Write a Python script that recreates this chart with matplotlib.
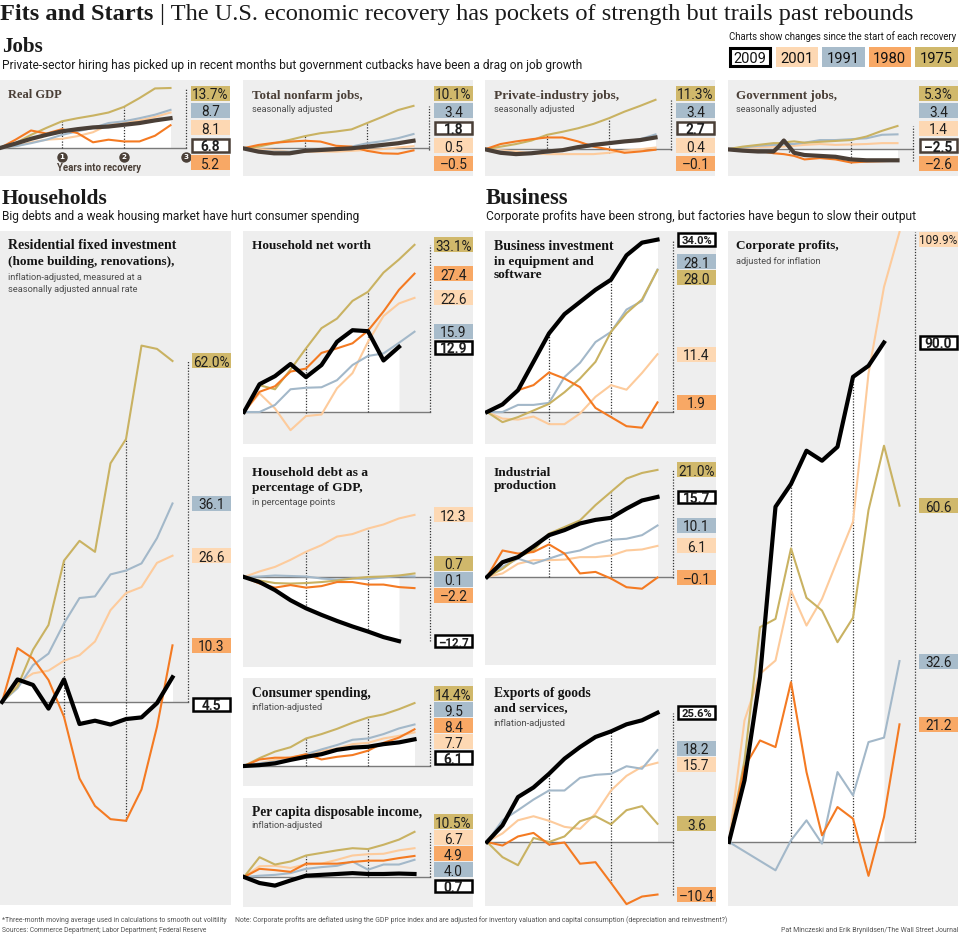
import matplotlib
matplotlib.use("Agg")
import matplotlib.pyplot as plt
from matplotlib.patches import Rectangle
import numpy as np

# recoveries, in the order every series list below is given
years = ["2009", "2001", "1991", "1980", "1975"]

# x positions, in years into the recovery
quarters = [q / 4 for q in range(12)]
job_months = [m / 12 for m in range(0, 34, 3)]
gov_months = [m / 12 for m in [0, 3, 6, 9, 10, 11, 12, 13, 15, 18, 21, 24, 27, 30, 33]]

# ---- Jobs ----
gdp_2009 = [0, 1.0, 2.1, 3.0, 3.8, 4.3, 4.7, 4.9, 5.3, 5.7, 6.3, 6.8]
gdp_2001 = [0, 0.4, 1.3, 1.9, 2.1, 2.7, 3.6, 5.3, 5.7, 6.3, 7.1, 8.1]
gdp_1991 = [0, 0.4, 1.1, 1.9, 3.0, 3.8, 4.6, 5.7, 6.1, 6.8, 7.6, 8.7]
gdp_1980 = [0, 1.9, 4.0, 3.3, 4.3, 3.4, 1.3, 1.9, 1.5, 1.5, 2.8, 5.2]
gdp_1975 = [0, 1.1, 3.0, 4.6, 6.1, 6.8, 7.4, 8.1, 9.4, 11.4, 13.6, 13.7]
gdp_labels = [6.8, 8.1, 8.7, 5.2, 13.7]

nonfarm_2009 = [0, -0.8, -1.2, -1.2, -0.6, -0.4, -0.2, 0, 0.4, 0.8, 1.2, 1.8]
nonfarm_2001 = [0, -0.2, -0.4, -0.8, -0.8, -0.8, -0.8, -0.6, -0.4, -0.2, 0.2, 0.5]
nonfarm_1991 = [0, -0.6, -0.8, -0.8, -0.4, -0.2, 0, 0.4, 1.2, 1.7, 2.4, 3.4]
nonfarm_1980 = [0, 0.8, 1.3, 1.6, 1.8, 1.6, 0.6, 0.4, -0.6, -1.2, -1.3, -0.5]
nonfarm_1975 = [0, 0.4, 1.2, 2.0, 2.9, 3.6, 4.0, 4.5, 6.0, 7.5, 9.1, 10.1]
nonfarm_labels = [1.8, 0.5, 3.4, -0.5, 10.1]

private_2009 = [0, -0.8, -1.1, -0.9, -0.5, -0.2, 0.5, 1.0, 1.4, 1.8, 2.1, 2.7]
private_2001 = [0, -0.2, -0.5, -0.9, -1.1, -1.1, -1.1, -1.1, -0.8, -0.3, 0, 0.4]
private_1991 = [0, -0.5, -0.9, -0.9, -0.8, -0.3, 0.2, 0.8, 1.4, 1.8, 2.3, 3.4]
private_1980 = [0, 1.2, 1.8, 2.3, 2.7, 2.7, 1.8, 0.6, 0, -0.8, -0.5, -0.1]
private_1975 = [0, 0.6, 1.2, 2.0, 3.3, 4.0, 4.8, 5.8, 7.1, 8.6, 9.9, 11.3]
private_labels = [2.7, 0.4, 3.4, -0.1, 11.3]

gov_2009 = [0, -0.3, -0.5, -0.5, 0.6, 2.0, 0.6, -0.8, -1.3, -1.5, -1.7, -2.3, -2.5, -2.5, -2.5]
gov_2001 = [0, 0.3, 0.5, 0.6, 0.6, 0.6, 0.8, 0.8, 1.0, 1.2, 1.0, 1.1, 1.2, 1.4, 1.4]
gov_1991 = [0, 0.4, 0.8, 1.0, 1.0, 1.1, 1.2, 1.2, 1.5, 2.1, 2.1, 2.3, 2.5, 3.3, 3.4]
gov_1980 = [0, -0.2, -0.3, -0.9, -1.0, -1.1, -1.3, -1.5, -2.3, -2.0, -2.3, -3.0, -2.8, -2.7, -2.6]
gov_1975 = [0, 0.6, 1.0, 1.4, 1.4, 1.5, 1.7, 1.8, 1.5, 1.7, 1.9, 2.1, 2.9, 4.2, 5.3]
gov_labels = [-2.5, 1.4, 3.4, -2.6, 5.3]

# ---- Households ----
res_2009 = [0, 4.1, 3.1, -1.2, 4.1, -4.0, -3.4, -4.1, -3.1, -2.8, -0.2, 4.5]
res_2001 = [0, 3.4, 5.2, 5.7, 7.5, 8.5, 11.0, 16.7, 19.8, 20.9, 25.3, 26.6]
res_1991 = [0, 2.5, 6.7, 8.8, 14.3, 18.9, 19.2, 23.2, 23.9, 25.2, 29.8, 36.1]
res_1980 = [0, 9.8, 7.9, 4.0, -2.7, -13.9, -18.9, -21.3, -21.6, -15.9, -4.5, 10.3]
res_1975 = [0, 2.8, 9.5, 14.0, 25.7, 29.3, 27.3, 43.4, 47.8, 64.8, 64.2, 62.0]
res_labels = [4.5, 26.6, 36.1, 10.3, 62.0]

nw_2009 = [0, 5.5, 7.1, 9.5, 6.9, 9.3, 13.9, 16.2, 16.0, 10.2, 12.9]
nw_2001 = [0, 3.7, 0.7, -3.6, -0.8, -0.5, 4.7, 7.7, 13.9, 19.0, 21.5, 22.6]
nw_1991 = [0, 0, 1.4, 4.5, 4.8, 4.9, 6.3, 9.3, 11.1, 11.6, 13.7, 15.9]
nw_1980 = [0, 4.0, 5.1, 8.0, 8.6, 11.7, 12.6, 13.6, 16.1, 19.9, 24.2, 27.4]
nw_1975 = [0, 5.3, 4.5, 8.4, 12.6, 16.6, 18.5, 22.0, 23.8, 27.6, 30.2, 33.1]
nw_labels = [12.9, 22.6, 15.9, 27.4, 33.1]

debt_2009 = [0, -1.0, -2.6, -4.6, -6.2, -7.5, -8.7, -9.8, -10.8, -11.9, -12.7]
debt_2001 = [0, 1.1, 2.0, 3.4, 5.0, 6.3, 8.0, 8.5, 9.6, 10.4, 11.6, 12.3]
debt_1991 = [0, 0.1, 0.3, 0.2, 0.1, -0.3, -0.5, -0.3, -0.4, -0.1, 0.2, 0.1]
debt_1980 = [0, -1.3, -2.1, -1.6, -2.1, -1.8, -1.0, -1.0, -1.5, -1.5, -2.0, -2.2]
debt_1975 = [0, -0.7, -1.2, -1.3, -1.2, -1.0, -0.7, -0.3, 0, 0.1, 0.3, 0.7]
debt_labels = [-12.7, 12.3, 0.1, -2.2, 0.7]

cons_2009 = [0, 0.2, 0.6, 1.4, 2.1, 2.7, 3.7, 4.2, 4.4, 5.0, 5.4, 6.1]
cons_2001 = [0, 0.6, 1.4, 2.0, 2.5, 3.5, 4.0, 5.0, 5.3, 6.3, 6.9, 7.7]
cons_1991 = [0, 0.6, 1.0, 1.5, 2.7, 3.8, 4.8, 6.0, 6.3, 7.3, 8.6, 9.5]
cons_1980 = [0, 1.5, 1.9, 1.9, 2.7, 1.5, 2.1, 2.5, 3.5, 5.3, 6.5, 8.4]
cons_1975 = [0, 1.8, 3.3, 4.3, 6.3, 7.3, 8.5, 9.9, 11.1, 11.8, 13.0, 14.4]
cons_labels = [6.1, 7.7, 9.5, 8.4, 14.4]

pci_2009 = [0, -1.4, -2.0, -0.8, 0.3, 0.5, 0.7, 0.9, 0.7, 0.7, 0.8, 0.7]
pci_2001 = [0, 2.5, 2.6, 2.1, 2.9, 3.1, 4.0, 5.0, 5.3, 5.4, 6.2, 6.7]
pci_1991 = [0, 0.3, 0.5, 0.9, 1.9, 2.3, 2.6, 3.6, 1.7, 2.9, 2.9, 4.0]
pci_1980 = [0, 1.9, 1.6, 1.2, 3.1, 3.1, 3.1, 3.5, 3.8, 3.8, 4.4, 4.9]
pci_1975 = [0, 4.6, 2.9, 3.6, 5.0, 5.6, 6.2, 6.7, 6.5, 7.5, 8.7, 10.5]
pci_labels = [0.7, 6.7, 4.0, 4.9, 10.5]

# ---- Business ----
biz_2009 = [0, 1.5, 4.3, 9.9, 15.5, 19.3, 21.7, 24.1, 26.1, 30.9, 33.4, 34.0]
biz_2001 = [0, -1.3, -1.5, -0.9, -2.4, -2.4, -0.3, 3.0, 5.3, 4.4, 7.7, 11.4]
biz_1991 = [0, 0, 1.4, 1.4, 1.8, 6.9, 9.7, 13.8, 15.8, 20.2, 21.9, 28.1]
biz_1980 = [0, 1.5, 4.3, 5.3, 7.8, 6.6, 4.9, 0.8, -1.0, -2.8, -3.1, 1.9]
biz_1975 = [0, -2.0, -1.0, 0.3, 1.6, 3.9, 6.6, 9.9, 15.8, 19.5, 22.2, 28.0]
biz_labels = [34.0, 11.4, 28.1, 1.9, 28.0]

ind_2009 = [0, 2.9, 3.9, 6.0, 8.2, 9.2, 10.5, 11.2, 11.6, 13.4, 15.0, 15.7]
ind_2001 = [0, 0.7, 2.6, 3.3, 3.3, 3.4, 3.9, 3.9, 4.2, 5.2, 5.4, 6.1]
ind_1991 = [0, 2.0, 3.6, 2.6, 3.6, 4.6, 5.2, 6.5, 7.3, 7.5, 8.2, 10.1]
ind_1980 = [0, 5.2, 4.6, 4.9, 6.4, 4.6, 0.7, 1.0, -0.3, -2.0, -2.3, -0.1]
ind_1975 = [0, 1.6, 3.9, 5.2, 8.5, 9.8, 11.1, 14.1, 16.7, 19.3, 20.4, 21.0]
ind_labels = [15.7, 6.1, 10.1, -0.1, 21.0]

exp_2009 = [0, 3.3, 8.9, 10.8, 13.5, 16.5, 18.8, 20.8, 21.9, 23.3, 24.1, 25.6]
exp_2001 = [0, 1.7, 4.3, 5.1, 4.2, 3.0, 2.6, 5.6, 10.2, 13.1, 14.9, 15.7]
exp_1991 = [0, 4.3, 6.3, 8.4, 10.2, 10.2, 12.7, 13.3, 13.5, 15.0, 14.5, 18.2]
exp_1980 = [0, -0.7, 1.1, 1.8, -0.5, -0.1, -4.3, -4.0, -8.1, -12.3, -10.8, -10.4]
exp_1975 = [0, -3.0, -4.6, 0.8, 0, 1.1, 4.1, 5.1, 3.5, 6.3, 7.1, 3.6]
exp_labels = [25.6, 15.7, 18.2, -10.4, 3.6]

corp_2009 = [0, 11.1, 29.7, 60.4, 64.5, 70.5, 68.7, 71.2, 83.8, 85.8, 90.0]
corp_2001 = [0, 21.9, 30.3, 32.7, 45.3, 39.0, 43.8, 50.8, 57.7, 84.4, 100.0, 109.9]
corp_1991 = [0, -1.7, -3.4, -5.1, 0.3, 3.9, -0.3, 12.6, 8.4, 18.0, 18.8, 32.6]
corp_1980 = [0, 13.5, 18.3, 17.1, 28.8, 12.6, 1.2, 6.3, 4.2, -6.1, 4.5, 21.2]
corp_1975 = [0, 14.7, 38.7, 40.2, 52.9, 44.0, 41.7, 36.0, 40.4, 59.8, 71.4, 60.6]
corp_labels = [90.0, 109.9, 32.6, 21.2, 60.6]

# ---- styles ----
W, H = 959, 935
YEAR_PX = 62
BG = "#eeeeee"
BROWN = "#4a3f37"
LINE = {"2001": "#fdcb9c", "1991": "#a3b8c9", "1980": "#f47a22", "1975": "#c9b262"}
FILL = {"2001": "#fdd8b3", "1991": "#a8bccb", "1980": "#f8a865", "1975": "#d0b86b"}
SERIF = ["Liberation Serif", "DejaVu Serif"]
SANS = ["Roboto", "DejaVu Sans"]

fig = plt.figure(figsize=(W / 100, H / 100), dpi=100)
renderer = fig.canvas.get_renderer()


def put(x, y, s, width=None, size=9, family=SANS, ha="left", maxw=None, **kw):
    t = fig.text(x / W, 1 - y / H, s, fontsize=size, family=family, ha=ha,
                 va="center_baseline", **kw)
    w = t.get_window_extent(renderer).width
    if width:
        t.set_fontsize(size * width / w)
    elif maxw and w > maxw:
        t.set_fontsize(size * maxw / w)
    return t


def box(x, y, w, h, yr, edge="black", lw=1.8):
    if yr == "2009":
        r = Rectangle(((x + 1.2) / W, 1 - (y + h - 1.2) / H), (w - 2.4) / W, (h - 2.4) / H,
                      transform=fig.transFigure, facecolor="white", edgecolor=edge, lw=lw)
    else:
        r = Rectangle((x / W, 1 - (y + h) / H), w / W, h / H,
                      transform=fig.transFigure, facecolor=FILL[yr], lw=0)
    fig.add_artist(r)


def spread(want, gap, lo, hi):
    order = np.argsort(want)
    y = np.array(want, float)[order]
    for _ in range(400):
        for i in range(1, len(y)):
            d = y[i - 1] + gap - y[i]
            if d > 0:
                y[i - 1] -= d / 2
                y[i] += d / 2
        y[0] = max(y[0], lo)
        y[-1] = min(y[-1], hi)
    out = np.empty_like(y)
    out[order] = y
    return out


def panel(left, top, right, bottom, x0, base, ppu, xs, values, labels,
          titles=(), small=False, pct=True, nudge=None):
    ax = fig.add_axes([left / W, 1 - bottom / H, (right - left) / W, (bottom - top) / H])
    ax.set_facecolor(BG)
    for s in ax.spines.values():
        s.set_visible(False)
    ax.set_xticks([])
    ax.set_yticks([])
    ax.set_xlim((left - x0) / YEAR_PX, (right - x0) / YEAR_PX)
    ax.set_ylim((base - bottom) / ppu, (base - top) / ppu)

    series = dict(zip(years, values))
    dark = BROWN if small else "black"
    v09 = series["2009"]
    x09 = xs[:len(v09)]

    # white area under the current recovery, baseline and year markers
    ax.fill_between(x09, 0, v09, color="white", lw=0, zorder=1)
    ax.plot([0, 3], [0, 0], color="#7a7a7a", lw=1.0, zorder=2)
    for yr in (1, 2):
        at = [np.interp(yr, xs[:len(v)], v) for v in values] + [0]
        ax.vlines(yr, min(at), max(at), colors="#333333", linestyles=(0, (1, 1.3)),
                  lw=0.9, zorder=2.5)
    ax.vlines(3, min(labels + [0]), max(labels + [0]), colors="#333333",
              linestyles=(0, (1, 1.3)), lw=0.9, zorder=2.5)

    for yr in ["2001", "1991", "1975", "1980"]:
        v = series[yr]
        ax.plot(xs[:len(v)], v, color=LINE[yr], lw=1.5, zorder=3)
    ax.plot(x09, v09, color=dark, lw=3.0, zorder=4)

    # value boxes on the right
    gap = 17.5 if small else 16
    pad = 13 if small else 8
    nudge = nudge or {}
    want = [base - v * ppu + nudge.get(yr, 0) for yr, v in zip(years, labels)]
    ys = spread(want, gap, top + pad, bottom - pad)
    top_val = max(labels)
    for yr, v, y in zip(years, labels, ys):
        s = f"{v:.1f}".replace("-", "\u2013")
        if pct and v == top_val:
            s += "%"
        box(right - 39, y - 7.5, 39, 15, yr, edge=dark)
        bold = yr == "2009"
        put(right - 19.5, y + 0.5, s, size=9.8, ha="center", color="#1e1e1e",
            weight="bold" if bold else "normal", maxw=31 if bold else 38)

    tcol = BROWN if small else "#141414"
    for text, y, w, kind in titles:
        if kind == "t":
            put(left + 8.5, y, text, width=w, size=9, family=SERIF, weight="bold", color=tcol)
        else:
            put(left + 8.5, y, text, width=w, size=7, color="#4d4d4d")
    return ax


# ---- header ----
put(0, 12, "Fits and Starts", width=153, size=18, family=SERIF, weight="bold", color="#1a1a1a")
put(160, 12, "| The U.S. economic recovery has pockets of strength but trails past rebounds",
    width=755, size=17, family=SERIF, color="#1a1a1a")
put(2, 45, "Jobs", width=41, size=15, family=SERIF, weight="bold", color="#1a1a1a")
put(2, 64, "Private-sector hiring has picked up in recent months but government cutbacks "
    "have been a drag on job growth", width=585, size=9, color="#1a1a1a")
put(729, 36, "Charts show changes since the start of each recovery", width=228, size=7,
    color="#1a1a1a")
for i, yr in enumerate(years):
    lx = 729 + i * 46.5
    box(lx, 47, 42.5, 20, yr, lw=2.2)
    put(lx + 21.2, 57.5, yr, width=33, size=12, ha="center", color="#111111")

put(2, 196, "Households", width=106, size=15, family=SERIF, weight="bold", color="#1a1a1a")
put(2, 215, "Big debts and a weak housing market have hurt consumer spending", width=360,
    size=9, color="#1a1a1a")
put(486, 196, "Business", width=83, size=15, family=SERIF, weight="bold", color="#1a1a1a")
put(486, 215, "Corporate profits have been strong, but factories have begun to slow their output",
    width=433, size=9, color="#1a1a1a")

# ---- jobs row ----
ax_gdp = panel(0, 80, 230, 176, 0, 148, 4.38, quarters,
               [gdp_2009, gdp_2001, gdp_1991, gdp_1980, gdp_1975], gdp_labels,
               titles=[("Real GDP", 94, 54, "t")], small=True)
yc = (148 - 157) / 4.38
ax_gdp.plot([1, 2, 3], [yc] * 3, "o", ms=6.5, color=BROWN, clip_on=False, zorder=5)
for k in (1, 2, 3):
    ax_gdp.text(k, yc, str(k), color="white", fontsize=5.2, weight="bold", ha="center",
                va="center", zorder=6, clip_on=False)
put(57, 167, "Years into recovery", width=84, size=7, weight="bold", color=BROWN)

panel(243, 80, 473, 176, 243, 148.3, 4.2, job_months,
      [nonfarm_2009, nonfarm_2001, nonfarm_1991, nonfarm_1980, nonfarm_1975], nonfarm_labels,
      titles=[("Total nonfarm jobs,", 94, 111, "t"), ("seasonally adjusted", 109, 81, "s")],
      small=True)
panel(485, 80, 715, 176, 485, 149.3, 4.38, job_months,
      [private_2009, private_2001, private_1991, private_1980, private_1975], private_labels,
      titles=[("Private-industry jobs,", 94, 125, "t"), ("seasonally adjusted", 109, 81, "s")],
      small=True)
panel(728, 80, 958, 176, 727, 149.3, 4.4, gov_months,
      [gov_2009, gov_2001, gov_1991, gov_1980, gov_1975], gov_labels,
      titles=[("Government jobs,", 94, 100, "t"), ("seasonally adjusted", 109, 81, "s")],
      small=True)

# ---- households ----
panel(0, 231, 231, 905, 2, 702, 5.5, quarters,
      [res_2009, res_2001, res_1991, res_1980, res_1975], res_labels,
      titles=[("Residential fixed investment", 244, 167, "t"),
              ("(home building, renovations),", 260, 165, "t"),
              ("inflation-adjusted, measured at a", 276, 136, "s"),
              ("seasonally adjusted annual rate", 288, 130, "s")],
      nudge={"2009": 27})
panel(243, 231, 473, 444, 244, 412, 5.05, quarters,
      [nw_2009, nw_2001, nw_1991, nw_1980, nw_1975], nw_labels,
      titles=[("Household net worth", 245, 118, "t")])
panel(243, 457, 473, 667, 244, 577, 5.05, quarters,
      [debt_2009, debt_2001, debt_1991, debt_1980, debt_1975], debt_labels,
      titles=[("Household debt as a", 471, 115, "t"), ("percentage of GDP,", 486, 110, "t"),
              ("in percentage points", 501, 84, "s")], pct=False)
panel(243, 678, 473, 786, 244, 766, 4.37, quarters,
      [cons_2009, cons_2001, cons_1991, cons_1980, cons_1975], cons_labels,
      titles=[("Consumer spending,", 692, 118, "t"), ("inflation-adjusted", 707, 72, "s")])
panel(243, 798, 473, 907, 244, 877, 4.3, quarters,
      [pci_2009, pci_2001, pci_1991, pci_1980, pci_1975], pci_labels,
      titles=[("Per capita disposable income,", 811, 170, "t"),
              ("inflation-adjusted", 825, 72, "s")])

# ---- business ----
panel(485, 231, 716, 444, 487, 412, 5.07, quarters,
      [biz_2009, biz_2001, biz_1991, biz_1980, biz_1975], biz_labels,
      titles=[("Business investment", 245, 119, "t"), ("in equipment and", 260, 99, "t"),
              ("software", 274, 49, "t")])
panel(485, 457, 716, 665, 487, 577, 5.1, quarters,
      [ind_2009, ind_2001, ind_1991, ind_1980, ind_1975], ind_labels,
      titles=[("Industrial", 471, 57, "t"), ("production", 485, 63, "t")])
panel(485, 678, 716, 906, 487, 842, 5.05, quarters,
      [exp_2009, exp_2001, exp_1991, exp_1980, exp_1975], exp_labels,
      titles=[("Exports of goods", 692, 97, "t"), ("and services,", 707, 73, "t"),
              ("inflation-adjusted", 722, 73, "s")])
panel(728, 231, 958, 906, 729, 842, 5.55, quarters,
      [corp_2009, corp_2001, corp_1991, corp_1980, corp_1975], corp_labels,
      titles=[("Corporate profits,", 245, 103, "t"), ("adjusted for inflation", 261, 85, "s")])

# ---- footer ----
put(2, 919, "*Three-month moving average used in calculations to smooth out volitility",
    width=227, size=6, color="#555555")
put(235, 919, "Note: Corporate profits are deflated using the GDP price index and are adjusted "
    "for inventory valuation and capital consumption (depreciation and reinvestment?)",
    width=492, size=6, color="#555555")
put(2, 930, "Sources: Commerce Department; Labor Department; Federal Reserve", width=208,
    size=6, color="#555555")
put(958, 930, "Pat Minczeski and Erik Brynildsen/The Wall Street Journal", width=178, size=6,
    ha="right", color="#555555")

fig.savefig("out.png", dpi=100, facecolor="white")
